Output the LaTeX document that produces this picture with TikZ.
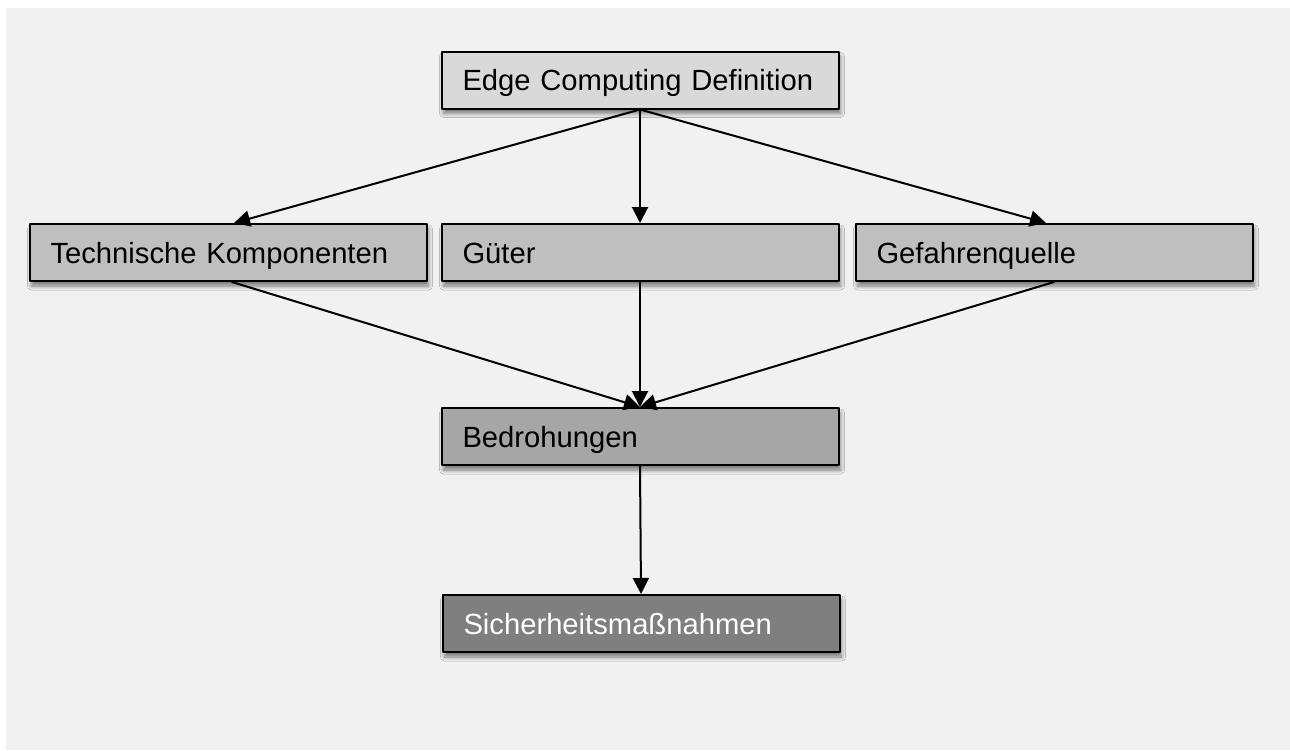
\documentclass[tikz,border=0pt]{standalone}
\usepackage{fontspec}
\setmainfont{Liberation Sans}
\usetikzlibrary{arrows.meta,shadows.blur}
\definecolor{bggray}{HTML}{F1F1F1}
\definecolor{levelone}{HTML}{D9D9D9}
\definecolor{leveltwo}{HTML}{BFBFBF}
\definecolor{levelthree}{HTML}{A6A6A6}
\definecolor{levelfour}{HTML}{7F7F7F}

\begin{document}
\begin{tikzpicture}[line cap=round,line join=round,>={Triangle[length=8pt,width=8pt]},x=0.5pt,y=-0.5pt,
		box/.style={draw=black,line width=1pt,rectangle,minimum height=28.5pt,text width=177.5pt,inner xsep=10.5pt,
			text height=10.5pt,text depth=0pt,align=left,font=\fontsize{14.6}{17}\selectfont,
			blur shadow={shadow xshift=1pt,shadow yshift=-2.5pt,shadow blur radius=2pt,shadow blur steps=6,shadow opacity=50}},
		link/.style={->,line width=1pt,black}]
	\useasboundingbox (0,0) rectangle (1290,750);
	\fill [bggray] (6,8) rectangle (1290,750);
	\node [box,fill=levelone] (def) at (640,80) {Edge Computing Definition};
	\node [box,fill=leveltwo] (tech) at (228,252.5) {Technische Komponenten};
	\node [box,fill=leveltwo] (gueter) at (640,252.5) {Güter};
	\node [box,fill=leveltwo] (gefahr) at (1054,252.5) {Gefahrenquelle};
	\node [box,fill=levelthree] (bedr) at (640,436.5) {Bedrohungen};
	\node [box,fill=levelfour,text=white] (sich) at (641,623.5) {Sicherheitsmaßnahmen};
	\draw [link] (def.south) -- ([xshift=3pt]tech.north);
	\draw [link] (def.south) -- (gueter.north);
	\draw [link] (def.south) -- ([xshift=-4pt]gefahr.north);
	\draw [link] ([xshift=2pt]tech.south) -- (bedr.north);
	\draw [link] (gueter.south) -- (bedr.north);
	\draw [link] (gefahr.south) -- (bedr.north);
	\draw [link] (bedr.south) -- (sich.north);
\end{tikzpicture}
\end{document}
